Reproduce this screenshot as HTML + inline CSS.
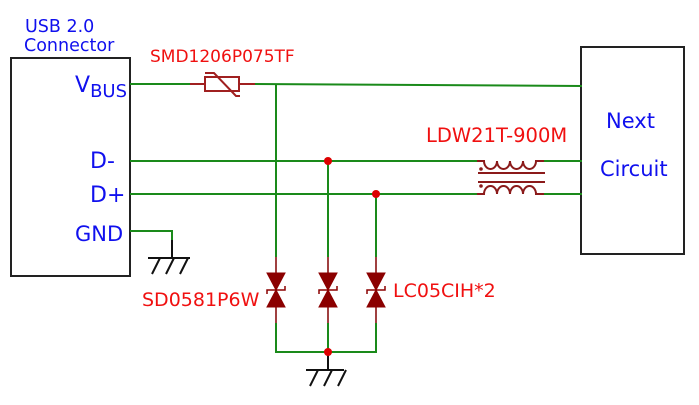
<!DOCTYPE html>
<html><head><style>body{margin:0;background:#fff}svg{display:block}</style></head><body>
<svg width="699" height="405" viewBox="0 0 699 405" xmlns="http://www.w3.org/2000/svg" font-family="DejaVu Sans, Liberation Sans, sans-serif">
<defs>
<g id="d"><path d="M0 257V273M0 307V323" stroke="#a04040" stroke-width="2"/>
<path d="M-9 273H9L0 290Z M-9 307H9L0 290Z" fill="#8b0000" stroke="#8b0000"/>
<path d="M-9 294V290H9V286" fill="none" stroke="#8b0000" stroke-width="1.5"/></g>
</defs>
<rect x="11" y="58" width="119" height="218" fill="none" stroke="#222" stroke-width="2"/>
<rect x="581" y="47" width="103" height="207" fill="none" stroke="#222" stroke-width="2"/>
<text x="25" y="32" fill="#1010ee" font-size="17.5px">USB 2.0</text>
<text x="24" y="51" fill="#1010ee" font-size="17.5px">Connector</text>
<text x="75" y="92" fill="#1010ee" font-size="22px">V<tspan font-size="18px" dy="5">BUS</tspan></text>
<text x="90" y="168" fill="#1010ee" font-size="22px">D-</text>
<text x="90" y="202" fill="#1010ee" font-size="22px">D+</text>
<text x="75" y="241" fill="#1010ee" font-size="21px">GND</text>
<text x="606" y="128" fill="#1010ee" font-size="21px">Next</text>
<text x="600" y="176" fill="#1010ee" font-size="21px">Circuit</text>
<text x="150" y="62" fill="#f01010" font-size="17px">SMD1206P075TF</text>
<text x="426" y="142" fill="#f01010" font-size="19.5px">LDW21T-900M</text>
<text x="142" y="306" fill="#f01010" font-size="19px">SD0581P6W</text>
<text x="393" y="297" fill="#f01010" font-size="19px">LC05CIH*2</text>
<g stroke="#1a8a1a" stroke-width="2" fill="none">
<path d="M130 84H190M255 84L582 86"/>
<path d="M130 161H477M544 161H582"/>
<path d="M130 194H477M544 194H582"/>
<path d="M130 231H172V240"/>
<path d="M276 84V257M328 161V257M376 194V257"/>
<path d="M276 323V352H376V323M328 323V352"/>
</g>
<g stroke="#111" stroke-width="2" fill="none">
<path d="M172 240V258M148 258H190M160 258L152 274M174 258L166 274M188 258L180 274"/>
<path d="M328 352V370M306 370H344M318 370L310 386M332 370L324 386M346 370L338 386"/>
</g>
<circle cx="328" cy="161" r="4" fill="#d00"/>
<circle cx="376" cy="194" r="4" fill="#d00"/>
<circle cx="328" cy="352" r="4" fill="#d00"/>
<g stroke="#a02020" stroke-width="2" fill="none">
<path d="M190 84H205M239 84H255"/>
<rect x="205" y="77" width="34" height="14"/>
<path d="M205 73H214L236 96H240"/>
</g>
<use href="#d" x="276"/><use href="#d" x="328"/><use href="#d" x="376"/>
<g stroke="#8b1a1a" stroke-width="2" fill="none">
<path d="M477 161H484a6.5 8 0 0 0 13 0a6.5 8 0 0 0 13 0a6.5 8 0 0 0 13 0a6.5 8 0 0 0 13 0H544"/>
<path d="M477 194H484a6.5 8 0 0 1 13 0a6.5 8 0 0 1 13 0a6.5 8 0 0 1 13 0a6.5 8 0 0 1 13 0H544"/>
<path d="M478 173H545M478 182H545"/>
</g>
<circle cx="481" cy="169" r="1.8" fill="#8b1a1a"/>
<circle cx="481" cy="186" r="1.8" fill="#8b1a1a"/>
</svg>
</body></html>
